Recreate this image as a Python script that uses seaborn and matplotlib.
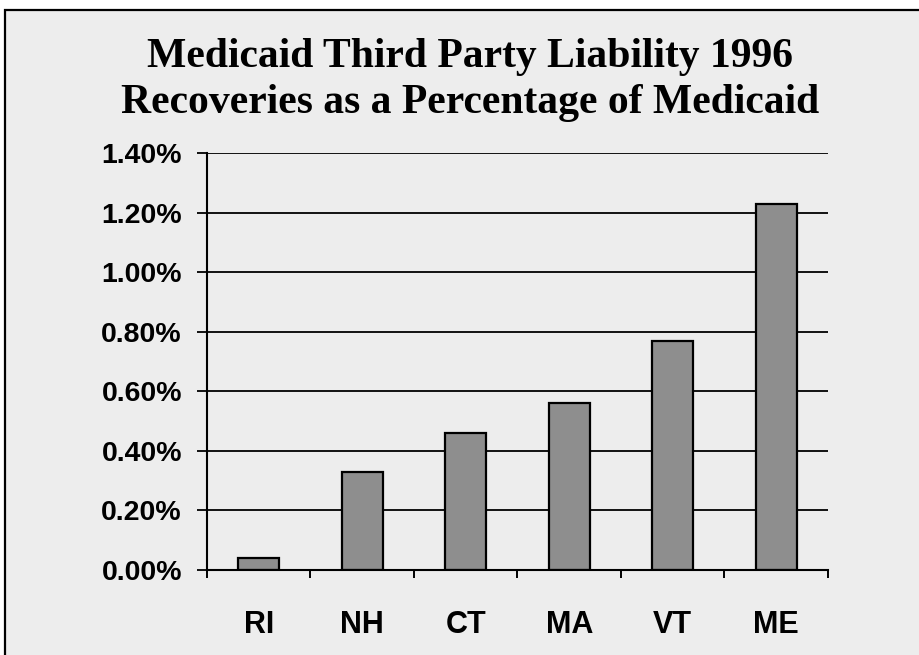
import matplotlib
matplotlib.use("Agg")
import matplotlib.pyplot as plt
from matplotlib.patches import Rectangle
from matplotlib.ticker import FuncFormatter, FixedLocator
import seaborn as sns
import pandas as pd

# Recoveries as a percentage of Medicaid spending, 1996
states = ["RI", "NH", "CT", "MA", "VT", "ME"]
recovery_pct = [0.04, 0.33, 0.46, 0.56, 0.77, 1.23]
y_ticks = [0.0, 0.2, 0.4, 0.6, 0.8, 1.0, 1.2, 1.4]
title_lines = ["Medicaid Third Party Liability 1996",
               "Recoveries as a Percentage of Medicaid"]

df = pd.DataFrame({"state": states, "pct": recovery_pct})

sns.set_theme(style="white")
plt.rcParams["font.family"] = ["Liberation Sans", "DejaVu Sans"]

W, H = 920, 655
fig = plt.figure(figsize=(W / 100, H / 100), dpi=100, facecolor="white")

# light grey slide panel with a dark frame
panel = Rectangle((5.5 / W, -0.05), 1.2, 1.05 - 9.5 / H,
                  transform=fig.transFigure, facecolor="#ededed",
                  edgecolor="black", linewidth=1.6, zorder=-10)
fig.patches.append(panel)

ax = fig.add_axes([207 / W, (H - 570) / H, 621 / W, 417 / H])
ax.set_facecolor("none")

sns.barplot(data=df, x="state", y="pct", ax=ax, color="#8e8e8e",
            width=0.4, edgecolor="black", linewidth=1.6, saturation=1)

ax.set_xlim(-0.5, len(states) - 0.5)
ax.set_ylim(0, 1.4)
ax.yaxis.set_major_locator(FixedLocator(y_ticks))
ax.yaxis.set_major_formatter(FuncFormatter(lambda v, p: f"{v:.2f}%"))
ax.set_axisbelow(True)
ax.grid(axis="y", color="black", linewidth=1.3)
ax.grid(axis="x", visible=False)

for side in ("top", "right"):
    ax.spines[side].set_visible(False)
for side in ("left", "bottom"):
    ax.spines[side].set_color("black")
    ax.spines[side].set_linewidth(1.5)

ax.set_xlabel("")
ax.set_ylabel("")

# ticks between categories on the x axis, labels centred under bars
ax.xaxis.set_minor_locator(FixedLocator([i - 0.5 for i in range(len(states) + 1)]))
ax.tick_params(axis="x", which="major", length=0, pad=29,
               labelsize=22, labelcolor="black")
ax.tick_params(axis="x", which="minor", bottom=True, length=6,
               width=1.4, color="black", direction="out")
ax.tick_params(axis="y", which="major", left=True, length=7.5, width=1.3,
               color="black", direction="out", pad=10.5,
               labelsize=20.5, labelcolor="black")
for lab in ax.get_xticklabels() + ax.get_yticklabels():
    lab.set_fontweight("bold")

# two-line serif heading
for text, base in zip(title_lines, (67, 113)):
    fig.text(0.511, 1 - base / H, text, ha="center", va="baseline",
             fontsize=30, fontweight="bold",
             family=["Liberation Serif", "DejaVu Serif"], color="black")

fig.savefig("out.png", dpi=100, facecolor=fig.get_facecolor())
